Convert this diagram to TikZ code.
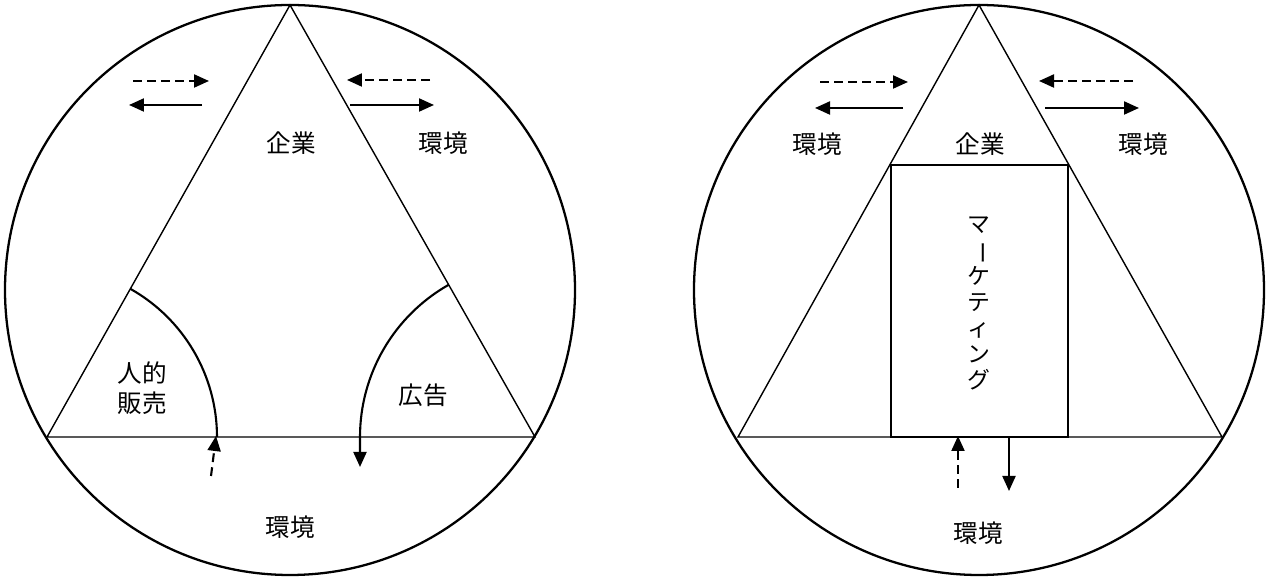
\documentclass[tikz,border=0pt]{standalone}
\usepackage{fontspec}
\newfontfamily\jpfont{Noto Sans CJK JP}
\usetikzlibrary{arrows.meta}
\tikzset{
  rim/.style={line width=1.3pt},
  frame/.style={line width=0.8pt},
  sector/.style={line width=1.2pt},
  flowline/.style={line width=1.2pt,-{Triangle[length=0.3cm,width=0.26cm]}},
  flowdash/.style={flowline,dash pattern=on 5pt off 3pt},
  lbl/.style={font=\jpfont\fontsize{14}{16}\selectfont,inner sep=0pt},
}

\begin{document}
\begin{tikzpicture}[x=0.02cm,y=0.02cm]
  \useasboundingbox (0,0) rectangle (1269,581);
  % left circle
  \coordinate (lC) at (290,291);
  \coordinate (lA) at (290,576);
  \coordinate (lL) at (47,144);
  \coordinate (lR) at (535,144);
  \draw[rim] (lC) circle (285);
  \draw[frame] (lL) -- (lA) -- (lR) -- cycle;
  \draw[sector] (lL) ++(60.6:170) arc[start angle=60.6,end angle=0,radius=170];
  \draw[flowline] (lR) ++(119.6:175) arc[start angle=119.6,end angle=180,radius=175] -- ++(0,-30);
  \coordinate (lin0) at (211,105);
  \coordinate (lin1) at (216,145);
  \draw[flowdash] (lin0) -- (lin1);
  \coordinate (la0) at (133,500); \coordinate (la1) at (209,500);
  \coordinate (lb0) at (202,476); \coordinate (lb1) at (129,476);
  \coordinate (lc0) at (430,501); \coordinate (lc1) at (347,501);
  \coordinate (ld0) at (350,476); \coordinate (ld1) at (434,476);
  \draw[flowdash] (la0) -- (la1);
  \draw[flowline] (lb0) -- (lb1);
  \draw[flowdash] (lc0) -- (lc1);
  \draw[flowline] (ld0) -- (ld1);
  \node[lbl] (lfirm) at (291,438) {企業};
  \node[lbl] (lenv1) at (443,438) {環境};
  \node[lbl,align=center,font=\jpfont\fontsize{14}{17}\selectfont] (lsell) at (142,193) {人的\\販売};
  \node[lbl] (lad) at (423,186) {広告};
  \node[lbl] (lenv2) at (290,54) {環境};
  % right circle
  \coordinate (rC) at (979,291);
  \coordinate (rA) at (979,576);
  \coordinate (rL) at (738,144);
  \coordinate (rR) at (1222,144);
  \draw[rim] (rC) circle (285);
  \draw[frame] (rL) -- (rA) -- (rR) -- cycle;
  \draw[frame] (891,144) rectangle (1068,416);
  \coordinate (ra0) at (820,499); \coordinate (ra1) at (908,499);
  \coordinate (rb0) at (903,473); \coordinate (rb1) at (815,473);
  \coordinate (rc0) at (1133,500); \coordinate (rc1) at (1039,500);
  \coordinate (rd0) at (1045,473); \coordinate (rd1) at (1139,473);
  \draw[flowdash] (ra0) -- (ra1);
  \draw[flowline] (rb0) -- (rb1);
  \draw[flowdash] (rc0) -- (rc1);
  \draw[flowline] (rd0) -- (rd1);
  \coordinate (rin0) at (958,93); \coordinate (rin1) at (958,145);
  \coordinate (rout0) at (1009,144); \coordinate (rout1) at (1009,90);
  \draw[flowdash] (rin0) -- (rin1);
  \draw[flowline] (rout0) -- (rout1);
  \node[lbl] (renv1) at (817,437) {環境};
  \node[lbl] (rfirm) at (980,437) {企業};
  \node[lbl] (renv2) at (1143,437) {環境};
  \node[lbl,align=center,font=\jpfont\fontsize{13}{14.8}\selectfont] (rmkt) at (979,278)
    {マ\\\rotatebox[origin=c]{-90}{ー}\\ケ\\テ\\ィ\\ン\\グ};
  \node[lbl] (renv3) at (978,48) {環境};
\end{tikzpicture}
\end{document}
